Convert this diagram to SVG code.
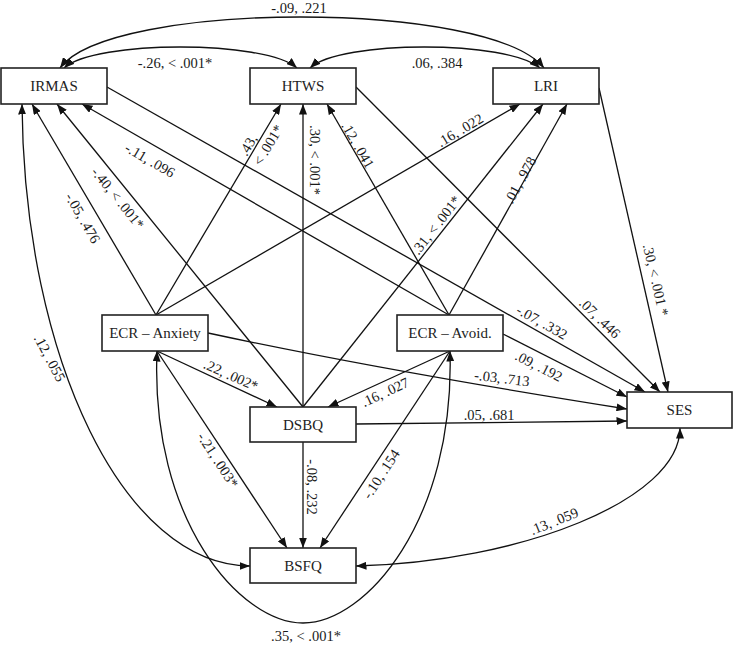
<svg xmlns="http://www.w3.org/2000/svg" width="734" height="645" viewBox="0 0 734 645">
<defs>
<marker id="ah" markerUnits="userSpaceOnUse" markerWidth="11" markerHeight="8" refX="10.5" refY="4" orient="auto-start-reverse">
<path d="M0,0 L10.5,4 L0,8 z" fill="#111"/>
</marker>
<style>
.box{fill:#fff;stroke:#222;stroke-width:1.6}
.nt{font-family:"Liberation Serif","Times New Roman",serif;font-size:15px;fill:#222;text-anchor:middle}
.lb{font-family:"Liberation Serif","Times New Roman",serif;font-size:14.5px;fill:#1a1a1a;text-anchor:middle}
.c{fill:none;stroke:#111;stroke-width:1.3;marker-end:url(#ah)}
.d{fill:none;stroke:#111;stroke-width:1.3;marker-start:url(#ah);marker-end:url(#ah)}
</style>
</defs>
<rect width="734" height="645" fill="#fff"/>
<g id="connectors">
<path class="c" d="M156,315 L32,104"/>
<path class="c" d="M303,407 L57,104"/>
<path class="c" d="M449,315 L82,104"/>
<path class="c" d="M156,315 L281,104"/>
<path class="c" d="M303,407 L303,104"/>
<path class="c" d="M449,315 L327,104"/>
<path class="c" d="M156,315 L520,104"/>
<path class="c" d="M303,407 L543,104"/>
<path class="c" d="M449,315 L567,104"/>
<path class="c" d="M107,87 L645,392"/>
<path class="c" d="M356,87 L660,392"/>
<path class="c" d="M599,88 L668,392"/>
<path class="c" d="M503,334 L627,397"/>
<path class="c" d="M208,333 Q380,370 627,409"/>
<path class="c" d="M356,424 L627,421"/>
<path class="c" d="M157,351 L277,407"/>
<path class="c" d="M450,351 L328,407"/>
<path class="c" d="M157,351 L287,548"/>
<path class="c" d="M303,442 L303,548"/>
<path class="c" d="M450,351 L320,548"/>
<path class="d" d="M60,68 C110,0 490,0 544,68"/>
<path class="d" d="M64,68 C95,40 265,40 297,68"/>
<path class="d" d="M310,68 C340,40 508,40 540,68"/>
<path class="d" d="M22,104 C24,360 125,566 250,566"/>
<path class="d" d="M157,351 C150,520 240,623 303,623 C366,623 455,520 450,351"/>
<path class="d" d="M356,566 C520,562 680,500 680,428"/>
</g>
<g id="labels">
<text class="lb" x="299" y="8" dy="0.35em">-.09, .221</text>
<text class="lb" x="175" y="63" dy="0.35em">-.26, &lt; .001*</text>
<text class="lb" x="437" y="63" dy="0.35em">.06, .384</text>
<text class="lb" transform="translate(83,218) rotate(60)" dy="0.35em">-.05, .476</text>
<text class="lb" transform="translate(118,198) rotate(51)" dy="0.35em">-.40, &lt; .001*</text>
<text class="lb" transform="translate(150,160) rotate(30)" dy="0.35em">-.11, .096</text>
<text class="lb" transform="translate(248,145) rotate(-59)" dy="0.35em">.43,</text>
<text class="lb" transform="translate(268,145) rotate(-59)" dy="0.35em">&lt; .001*</text>
<text class="lb" transform="translate(315,160) rotate(90)" dy="0.35em">.30, &lt; .001*</text>
<text class="lb" transform="translate(358,145) rotate(60)" dy="0.35em">.12, .041</text>
<text class="lb" transform="translate(460,130) rotate(-31)" dy="0.35em">.16, .022</text>
<text class="lb" transform="translate(520,180) rotate(-61)" dy="0.35em">.01, .978</text>
<text class="lb" transform="translate(436,225) rotate(-52)" dy="0.35em">.31, &lt; .001*</text>
<text class="lb" transform="translate(542,322) rotate(29)" dy="0.35em">-.07, .332</text>
<text class="lb" transform="translate(600,318) rotate(44)" dy="0.35em">.07, .446</text>
<text class="lb" transform="translate(539,366) rotate(27)" dy="0.35em">.09, .192</text>
<text class="lb" transform="translate(656,280) rotate(77)" dy="0.35em">.30, &lt; .001 *</text>
<text class="lb" transform="translate(502,378) rotate(7)" dy="0.35em">-.03, .713</text>
<text class="lb" x="489" y="415" dy="0.35em">.05, .681</text>
<text class="lb" transform="translate(231,375) rotate(24)" dy="0.35em">.22, .002*</text>
<text class="lb" transform="translate(385,392) rotate(-25)" dy="0.35em">.16, .027</text>
<text class="lb" transform="translate(218,460) rotate(57)" dy="0.35em">-.21, .003*</text>
<text class="lb" transform="translate(312,487) rotate(90)" dy="0.35em">-.08, .232</text>
<text class="lb" transform="translate(381,474) rotate(-57)" dy="0.35em">-.10, .154</text>
<text class="lb" transform="translate(50,358) rotate(62)" dy="0.35em">.12, .055</text>
<text class="lb" x="306" y="636" dy="0.35em">.35, &lt; .001*</text>
<text class="lb" transform="translate(554,521) rotate(-22)" dy="0.35em">.13, .059</text>
</g>
<g id="IRMAS"><rect class="box" x="1" y="68" width="106" height="36"/><text class="nt" x="54" y="86" dy="0.35em">IRMAS</text></g>
<g id="HTWS"><rect class="box" x="250" y="68" width="106" height="36"/><text class="nt" x="303" y="86" dy="0.35em">HTWS</text></g>
<g id="LRI"><rect class="box" x="493" y="68" width="106" height="36"/><text class="nt" x="546" y="86" dy="0.35em">LRI</text></g>
<g id="ECR-Anxiety"><rect class="box" x="102" y="315" width="106" height="36"/><text class="nt" x="155" y="333" dy="0.35em">ECR – Anxiety</text></g>
<g id="ECR-Avoid"><rect class="box" x="397" y="315" width="106" height="36"/><text class="nt" x="450" y="333" dy="0.35em">ECR – Avoid.</text></g>
<g id="DSBQ"><rect class="box" x="250" y="407" width="106" height="35"/><text class="nt" x="303" y="424.5" dy="0.35em">DSBQ</text></g>
<g id="BSFQ"><rect class="box" x="250" y="548" width="106" height="35"/><text class="nt" x="303" y="565.5" dy="0.35em">BSFQ</text></g>
<g id="SES"><rect class="box" x="627" y="392" width="105" height="36"/><text class="nt" x="679.5" y="410" dy="0.35em">SES</text></g>
</svg>
